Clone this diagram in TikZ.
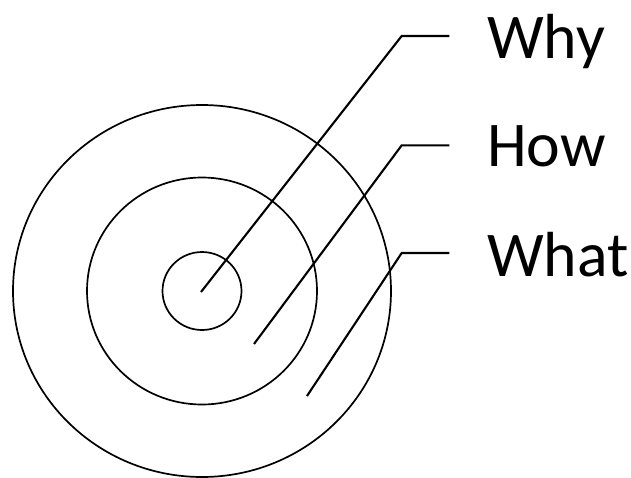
\documentclass[tikz,border=0pt]{standalone}
\usepackage{fontspec}
\setmainfont{Carlito}
\usepackage{xcolor}
\definecolor{inkblack}{RGB}{0, 0, 0}
\usepackage{tikz}
\usetikzlibrary{positioning, calc}

\begin{document}
\begin{tikzpicture}[x=1pt, y=-1pt,
    ring/.style={line width=1.7pt, inkblack},
    pointer/.style={line width=2.1pt, inkblack},
    word/.style={anchor=base west, inner sep=0pt, font=\fontsize{63.7}{76}\selectfont}]
    \useasboundingbox (0,0) rectangle (631,477);

    \coordinate (C) at (202, 291);

    \draw[ring] (C) ellipse [x radius=189, y radius=186];
    \draw[ring] (C) ellipse [x radius=115, y radius=113.5];
    \draw[ring] (C) ellipse [x radius=39.5, y radius=39];

    \node[word] (why) at (487, 58.5) {Why};
    \node[word] (how) at (487, 166.5) {How};
    \node[word] (what) at (487, 276.5) {What};

    \coordinate (whyIn) at (201, 292);
    \coordinate (howIn) at (254, 344);
    \coordinate (whatIn) at (307, 396);

    \coordinate (whyKnee) at (401.7, 36);
    \coordinate (howKnee) at (401.7, 145.3);
    \coordinate (whatKnee) at (401.7, 253);

    \coordinate (whyEnd) at (449.3, 36);
    \coordinate (howEnd) at (449.3, 145.3);
    \coordinate (whatEnd) at (449.3, 253);

    \draw[pointer] (whyIn) -- (whyKnee) -- (whyEnd);
    \draw[pointer] (howIn) -- (howKnee) -- (howEnd);
    \draw[pointer] (whatIn) -- (whatKnee) -- (whatEnd);
\end{tikzpicture}
\end{document}
